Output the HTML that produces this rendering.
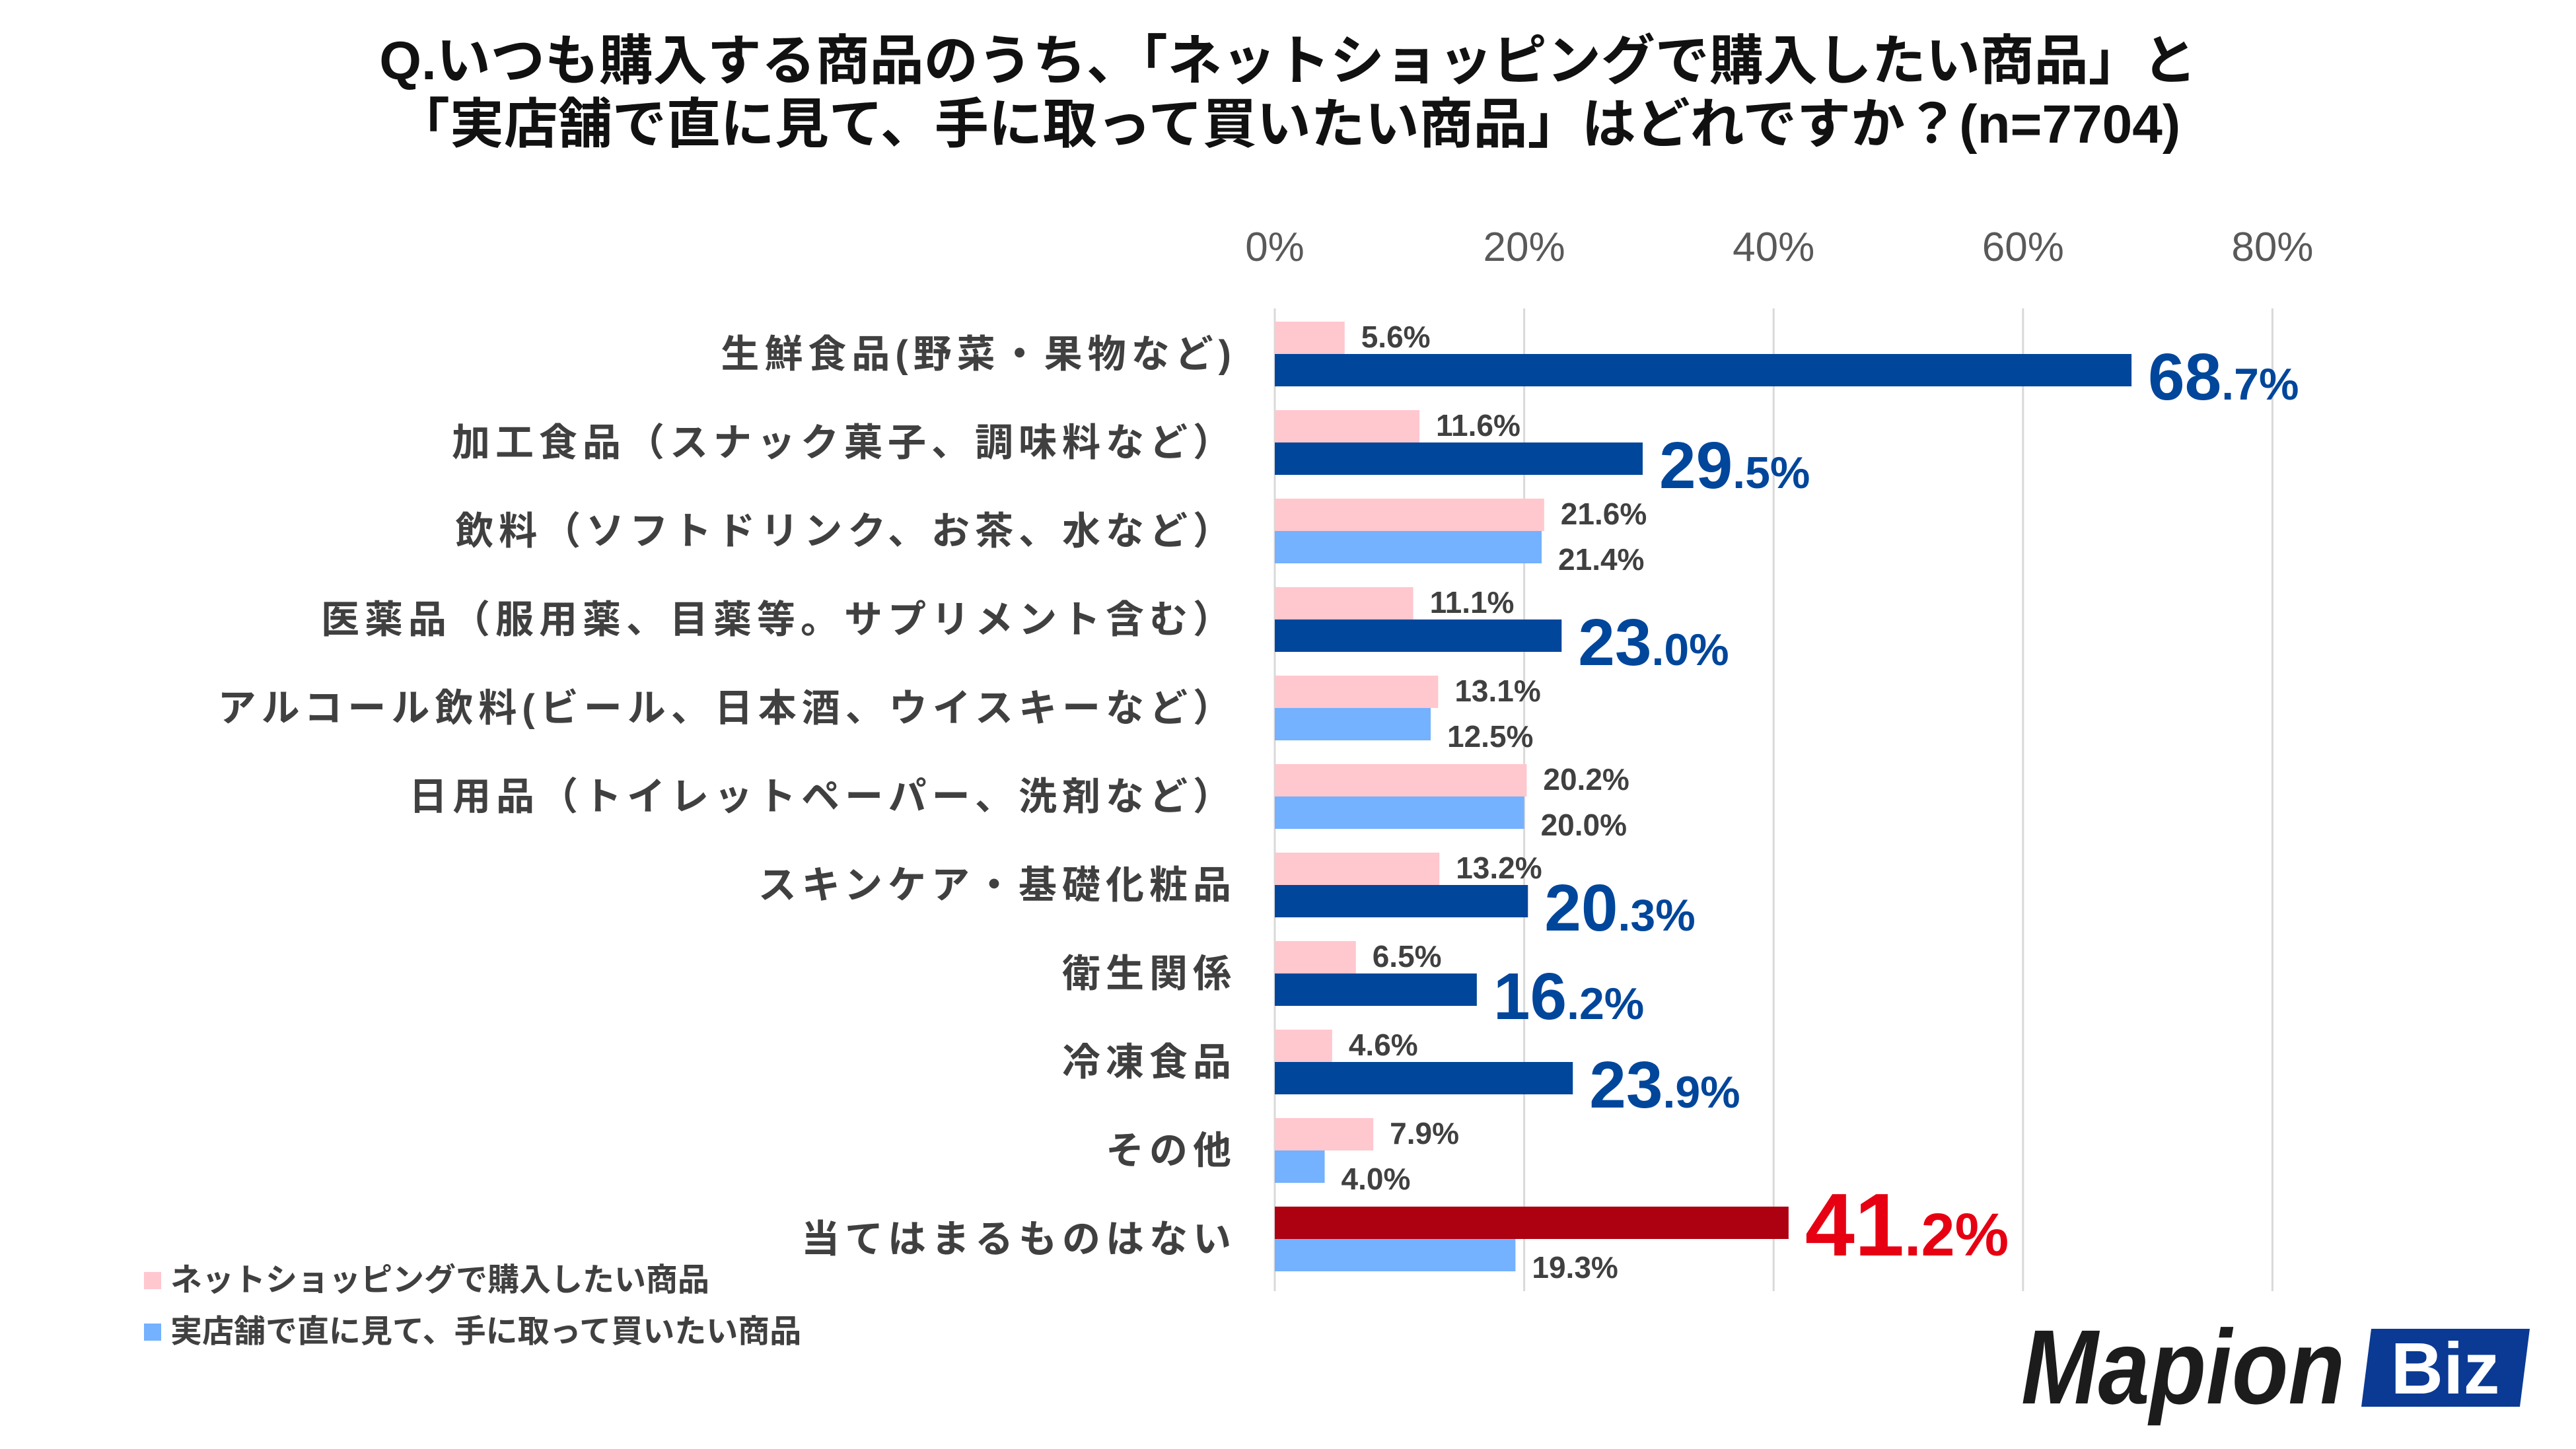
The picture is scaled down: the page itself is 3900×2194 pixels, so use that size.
<!DOCTYPE html>
<html><head><meta charset="utf-8"><style>
html,body{margin:0;padding:0;background:#fff;}
svg{display:block;}
text{font-family:"Liberation Sans","Noto Sans CJK JP",sans-serif;}
.num{font-family:"Liberation Sans Narrow","Liberation Sans",sans-serif;font-weight:bold;}
</style></head><body>
<svg id="chart" width="3900" height="2194" viewBox="0 0 3900 2194">
<text x="1950" y="120" text-anchor="middle" font-size="82" font-weight="bold" fill="#111">Q.いつも購入する商品のうち、「ネットショッピングで購入したい商品」と</text>
<text x="1950" y="216" text-anchor="middle" font-size="82" font-weight="bold" fill="#111">「実店舗で直に見て、手に取って買いたい商品」はどれですか？(n=7704)</text>
<g id="grid"></g><g id="bars"></g><g id="labels"></g>
<g>
<rect x="218" y="1926" width="26" height="26" fill="#ffc7ce"/>
<text x="258" y="1954" font-size="48" font-weight="bold" fill="#404040">ネットショッピングで購入したい商品</text>
<rect x="218" y="2004" width="26" height="26" fill="#74b1ff"/>
<text x="258" y="2032" font-size="48" font-weight="bold" fill="#404040">実店舗で直に見て、手に取って買いたい商品</text>
</g>
<g>
<text x="3060" y="2125" font-size="160" font-weight="bold" font-style="italic" fill="#1c1c1c" textLength="490" lengthAdjust="spacingAndGlyphs">Mapion</text>
<polygon points="3590,2012 3830,2012 3815,2130 3575,2130" fill="#0a3a94"/>
<text x="3702" y="2110" text-anchor="middle" font-family="Liberation Serif,serif" font-size="110" font-weight="bold" fill="#fff">Biz</text>
</g>
</svg>
<script>
const categories=["生鮮食品(野菜・果物など)","加工食品（スナック菓子、調味料など）","飲料（ソフトドリンク、お茶、水など）","医薬品（服用薬、目薬等。サプリメント含む）","アルコール飲料(ビール、日本酒、ウイスキーなど）","日用品（トイレットペーパー、洗剤など）","スキンケア・基礎化粧品","衛生関係","冷凍食品","その他","当てはまるものはない"];
const onlineValues=[5.6,11.6,21.6,11.1,13.1,20.2,13.2,6.5,4.6,7.9,41.2];
const storeValues=[68.7,29.5,21.4,23.0,12.5,20.0,20.3,16.2,23.9,4.0,19.3];
const storeHighlight=[1,1,0,1,0,0,1,1,1,0,0];
const onlineHighlight=[0,0,0,0,0,0,0,0,0,0,1];
const ticks=[0,20,40,60,80];
const NS="http://www.w3.org/2000/svg";
const X0=1930,PX=18.88,TOP=467,BOT=1955,Y0=487,BAND=134,BH=49;
const xs=v=>X0+v*PX;
function mk(tag,attrs,parent,txt){const e=document.createElementNS(NS,tag);for(const k in attrs)e.setAttribute(k,attrs[k]);if(txt!==undefined)e.textContent=txt;parent.appendChild(e);return e;}
const grid=document.getElementById('grid'),bars=document.getElementById('bars'),labels=document.getElementById('labels');
ticks.forEach(t=>{
 const l=mk('line',{x1:xs(t),x2:xs(t),y1:TOP,y2:BOT,stroke:'#d9d9d9','stroke-width':3},grid);
 
 
 const tx=mk('text',{x:xs(t),y:395,'text-anchor':'middle','font-size':62,fill:'#595959'},grid,t+'%');
 
 
});
function bigLabel(x,y,v,color,s){
 const t=mk('text',{x:x,y:y,fill:color,class:'num'},labels);
 
 
 const p=v.toFixed(1).split('.');
 mk('tspan',{'font-size':s},t,p[0]);
 mk('tspan',{'font-size':s*0.68},t,'.'+p[1]+'%');
}
categories.forEach((c,i)=>{
 const y=Y0+i*BAND;
 const cl=mk('text',{x:1872,y:y+BH+20,'text-anchor':'end','font-size':58,'font-weight':'bold',fill:'#404040','letter-spacing':8},labels,c);
 
 
 const ov=onlineValues[i];
 const r1=mk('rect',{x:X0,y:y,width:xs(ov)-X0,height:BH,fill:onlineHighlight[i]?'#ad0010':'#ffc7ce'},bars);
 
 
 if(onlineHighlight[i]) bigLabel(xs(ov)+25,y+BH+25,ov,'#e60012',135);
 else{const t=mk('text',{x:xs(ov)+25,y:y+BH-10,'font-size':46,fill:'#404040',class:'num'},labels,ov.toFixed(1)+'%');
  
  }
 const sv=storeValues[i];
 const r2=mk('rect',{x:X0,y:y+BH,width:xs(sv)-X0,height:BH,fill:storeHighlight[i]?'#00469b':'#74b1ff'},bars);
 
 
 if(storeHighlight[i]) bigLabel(xs(sv)+25,y+2*BH+20,sv,'#00469b',100);
 else{const t=mk('text',{x:xs(sv)+25,y:y+2*BH+10,'font-size':46,fill:'#404040',class:'num'},labels,sv.toFixed(1)+'%');
  
  }
});
</script>
</body></html>
